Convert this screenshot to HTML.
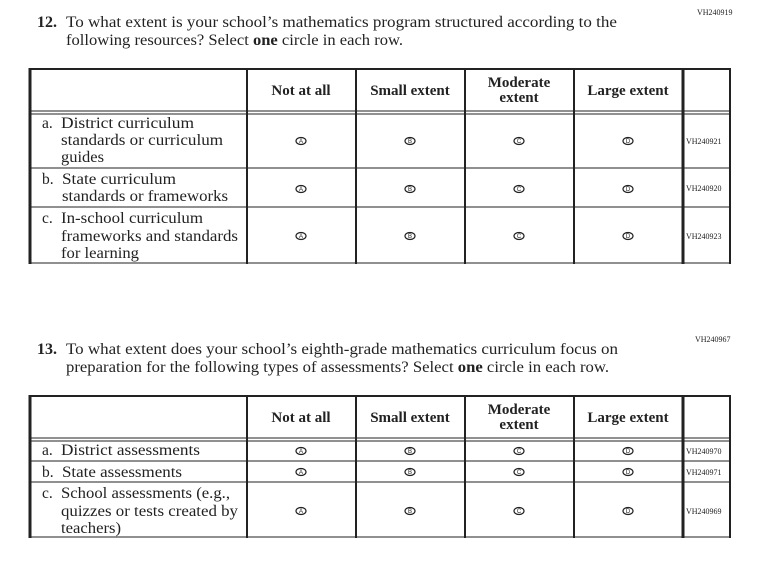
<!DOCTYPE html>
<html><head><style>
body{margin:0;background:#fff}
svg{display:block}
text{font-family:"Liberation Serif",serif;fill:#222}
.t{font-size:16px}
.h{font-size:15px;font-weight:bold;text-anchor:middle}
.r{font-size:15.5px}
.v{font-size:8px}
.b{font-size:6px;text-anchor:middle;font-family:"Liberation Sans",sans-serif}
</style></head><body>
<svg width="758" height="564" viewBox="0 0 758 564" xmlns="http://www.w3.org/2000/svg">
<g stroke="#222" fill="none">
<line x1="29" y1="69" x2="731" y2="69" stroke-width="2"/>
<line x1="29" y1="111" x2="731" y2="111" stroke-width="1"/>
<line x1="29" y1="114" x2="731" y2="114" stroke-width="1"/>
<line x1="29" y1="168" x2="731" y2="168" stroke-width="1"/>
<line x1="29" y1="207" x2="731" y2="207" stroke-width="1"/>
<line x1="29" y1="263" x2="731" y2="263" stroke-width="1"/>
<line x1="30" y1="68" x2="30" y2="264" stroke-width="3"/>
<line x1="247" y1="68" x2="247" y2="264" stroke-width="2"/>
<line x1="356" y1="68" x2="356" y2="264" stroke-width="2"/>
<line x1="465" y1="68" x2="465" y2="264" stroke-width="2"/>
<line x1="574" y1="68" x2="574" y2="264" stroke-width="2"/>
<line x1="683" y1="68" x2="683" y2="264" stroke-width="3"/>
<line x1="730" y1="68" x2="730" y2="264" stroke-width="2"/>
<line x1="29" y1="396" x2="731" y2="396" stroke-width="2"/>
<line x1="29" y1="438" x2="731" y2="438" stroke-width="1"/>
<line x1="29" y1="441" x2="731" y2="441" stroke-width="1"/>
<line x1="29" y1="461" x2="731" y2="461" stroke-width="1"/>
<line x1="29" y1="482" x2="731" y2="482" stroke-width="1"/>
<line x1="29" y1="537" x2="731" y2="537" stroke-width="1"/>
<line x1="30" y1="395" x2="30" y2="538" stroke-width="3"/>
<line x1="247" y1="395" x2="247" y2="538" stroke-width="2"/>
<line x1="356" y1="395" x2="356" y2="538" stroke-width="2"/>
<line x1="465" y1="395" x2="465" y2="538" stroke-width="2"/>
<line x1="574" y1="395" x2="574" y2="538" stroke-width="2"/>
<line x1="683" y1="395" x2="683" y2="538" stroke-width="3"/>
<line x1="730" y1="395" x2="730" y2="538" stroke-width="2"/>
</g>
<text class="v" x="697" y="15">VH240919</text>
<text class="t" x="37" y="27" font-weight="bold">12.</text>
<text class="t" x="66" y="27" textLength="551" lengthAdjust="spacingAndGlyphs">To what extent is your school’s mathematics program structured according to the</text>
<text class="t" x="66" y="45" textLength="337" lengthAdjust="spacingAndGlyphs">following resources? Select <tspan font-weight="bold">one</tspan> circle in each row.</text>
<text class="h" x="301" y="95">Not at all</text>
<text class="h" x="410" y="95">Small extent</text>
<text class="h" x="519" y="87">Moderate</text>
<text class="h" x="519" y="102">extent</text>
<text class="h" x="628" y="95">Large extent</text>
<text class="r" x="42" y="128">a.</text><text class="r" x="61" y="128" textLength="133" lengthAdjust="spacingAndGlyphs">District curriculum</text>
<text class="r" x="61" y="145" textLength="162" lengthAdjust="spacingAndGlyphs">standards or curriculum</text>
<text class="r" x="61" y="162" textLength="43" lengthAdjust="spacingAndGlyphs">guides</text>
<text class="r" x="42" y="184">b.</text><text class="r" x="62" y="184" textLength="114" lengthAdjust="spacingAndGlyphs">State curriculum</text>
<text class="r" x="62" y="201" textLength="166" lengthAdjust="spacingAndGlyphs">standards or frameworks</text>
<text class="r" x="42" y="223">c.</text><text class="r" x="61" y="223" textLength="142" lengthAdjust="spacingAndGlyphs">In-school curriculum</text>
<text class="r" x="61" y="241" textLength="177" lengthAdjust="spacingAndGlyphs">frameworks and standards</text>
<text class="r" x="61" y="258" textLength="78" lengthAdjust="spacingAndGlyphs">for learning</text>
<text class="v" x="686" y="144">VH240921</text>
<text class="v" x="686" y="191">VH240920</text>
<text class="v" x="686" y="239">VH240923</text>
<text class="v" x="695" y="342">VH240967</text>
<text class="t" x="37" y="354" font-weight="bold">13.</text>
<text class="t" x="66" y="354" textLength="552" lengthAdjust="spacingAndGlyphs">To what extent does your school’s eighth-grade mathematics curriculum focus on</text>
<text class="t" x="66" y="372" textLength="543" lengthAdjust="spacingAndGlyphs">preparation for the following types of assessments? Select <tspan font-weight="bold">one</tspan> circle in each row.</text>
<text class="h" x="301" y="422">Not at all</text>
<text class="h" x="410" y="422">Small extent</text>
<text class="h" x="519" y="414">Moderate</text>
<text class="h" x="519" y="429">extent</text>
<text class="h" x="628" y="422">Large extent</text>
<text class="r" x="42" y="455">a.</text><text class="r" x="61" y="455" textLength="139" lengthAdjust="spacingAndGlyphs">District assessments</text>
<text class="r" x="42" y="477">b.</text><text class="r" x="62" y="477" textLength="120" lengthAdjust="spacingAndGlyphs">State assessments</text>
<text class="r" x="42" y="498">c.</text><text class="r" x="61" y="498" textLength="169" lengthAdjust="spacingAndGlyphs">School assessments (e.g.,</text>
<text class="r" x="61" y="516" textLength="177" lengthAdjust="spacingAndGlyphs">quizzes or tests created by</text>
<text class="r" x="61" y="533" textLength="60" lengthAdjust="spacingAndGlyphs">teachers)</text>
<text class="v" x="686" y="454">VH240970</text>
<text class="v" x="686" y="475">VH240971</text>
<text class="v" x="686" y="514">VH240969</text>
<g stroke="#222" stroke-width="1.2" fill="none">
<ellipse cx="301" cy="141" rx="5" ry="3.5"/><ellipse cx="410" cy="141" rx="5" ry="3.5"/><ellipse cx="519" cy="141" rx="5" ry="3.5"/><ellipse cx="628" cy="141" rx="5" ry="3.5"/>
<ellipse cx="301" cy="189" rx="5" ry="3.5"/><ellipse cx="410" cy="189" rx="5" ry="3.5"/><ellipse cx="519" cy="189" rx="5" ry="3.5"/><ellipse cx="628" cy="189" rx="5" ry="3.5"/>
<ellipse cx="301" cy="236" rx="5" ry="3.5"/><ellipse cx="410" cy="236" rx="5" ry="3.5"/><ellipse cx="519" cy="236" rx="5" ry="3.5"/><ellipse cx="628" cy="236" rx="5" ry="3.5"/>
<ellipse cx="301" cy="451" rx="5" ry="3.5"/><ellipse cx="410" cy="451" rx="5" ry="3.5"/><ellipse cx="519" cy="451" rx="5" ry="3.5"/><ellipse cx="628" cy="451" rx="5" ry="3.5"/>
<ellipse cx="301" cy="472" rx="5" ry="3.5"/><ellipse cx="410" cy="472" rx="5" ry="3.5"/><ellipse cx="519" cy="472" rx="5" ry="3.5"/><ellipse cx="628" cy="472" rx="5" ry="3.5"/>
<ellipse cx="301" cy="511" rx="5" ry="3.5"/><ellipse cx="410" cy="511" rx="5" ry="3.5"/><ellipse cx="519" cy="511" rx="5" ry="3.5"/><ellipse cx="628" cy="511" rx="5" ry="3.5"/>
</g>
<g>
<text class="b" x="301" y="143">A</text><text class="b" x="410" y="143">B</text><text class="b" x="519" y="143">C</text><text class="b" x="628" y="143">D</text>
<text class="b" x="301" y="191">A</text><text class="b" x="410" y="191">B</text><text class="b" x="519" y="191">C</text><text class="b" x="628" y="191">D</text>
<text class="b" x="301" y="238">A</text><text class="b" x="410" y="238">B</text><text class="b" x="519" y="238">C</text><text class="b" x="628" y="238">D</text>
<text class="b" x="301" y="453">A</text><text class="b" x="410" y="453">B</text><text class="b" x="519" y="453">C</text><text class="b" x="628" y="453">D</text>
<text class="b" x="301" y="474">A</text><text class="b" x="410" y="474">B</text><text class="b" x="519" y="474">C</text><text class="b" x="628" y="474">D</text>
<text class="b" x="301" y="513">A</text><text class="b" x="410" y="513">B</text><text class="b" x="519" y="513">C</text><text class="b" x="628" y="513">D</text>
</g>
</svg>
</body></html>
